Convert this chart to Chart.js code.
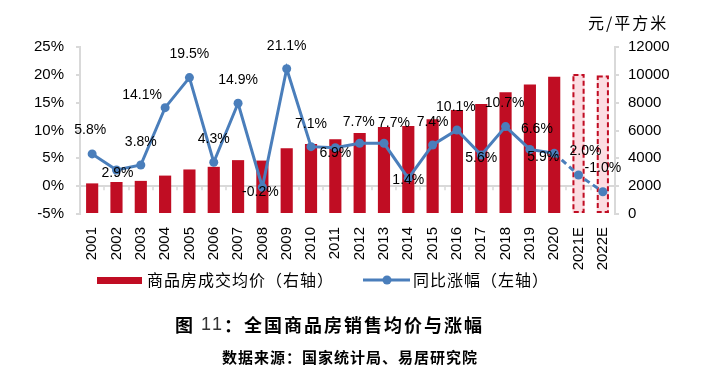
<!DOCTYPE html>
<html>
<head>
<meta charset="utf-8">
<script src="https://cdn.jsdelivr.net/npm/chart.js@4/dist/chart.umd.min.js"></script>
<style>
  html, body { margin: 0; padding: 0; background: #fff; }
  #wrap { width: 709px; height: 391px; }
</style>
</head>
<body>
<div id="wrap"><canvas id="chart" width="709" height="391"></canvas></div>
<script>
// data
const years = ['2001', '2002', '2003', '2004', '2005', '2006', '2007', '2008', '2009', '2010',
    '2011', '2012', '2013', '2014', '2015', '2016', '2017', '2018', '2019', '2020', '2021E', '2022E'];
const avgPrice = [2200, 2300, 2380, 2760, 3200, 3390, 3870, 3840, 4720, 5030,
    5380, 5820, 6260, 6320, 6810, 7480, 7900, 8750, 9300, 9860, 10060, 9960];
const yoyGrowth = [5.8, 2.9, 3.8, 14.1, 19.5, 4.3, 14.9, -0.2, 21.1, 7.1,
    6.9, 7.7, 7.7, 1.4, 7.4, 10.1, 5.6, 10.7, 6.6, 5.9, 2.0, -1.0];
const ESTIMATE_FROM = 20; // first forecast year (2021E)

const RED = '#C00D23';
const PINK = '#FCDDE2';
const BLUE = '#4A7EBB';
const GRAY = '#D9D9D9';
const CN = '"Noto Sans CJK SC", "Noto Sans", sans-serif';
const NUM = '"Liberation Sans", Arial, sans-serif';

// where each value label sits relative to its point
const LABEL_OFFSETS = [
    [-2, -24], [1, 3], [0, -23], [-23, -13], [0, -23], [0, -23], [0, -23], [-2, 5], [0, -23], [0, -23],
    [0, 5], [-1, -21], [10, -20], [0, 2], [0, -23], [-1, -23], [0, 3], [-1, -23], [7, -20], [-11, 4],
    [7, -24], [0, -24]
];

// draws text char by char with extra spacing, returns the x where it ends
function spaced(ctx, text, x, y, spacing) {
    let cx = x;
    for (const ch of text) {
        ctx.fillText(ch, cx, y);
        cx += ctx.measureText(ch).width + spacing;
    }
    return cx;
}

const decor = {
    id: 'decor',
    afterDatasetDraw(chart, args) {
        const ds = chart.data.datasets[args.index];
        if (ds.type !== 'bar') return;
        // dashed outline for the forecast bars
        const ctx = chart.ctx;
        args.meta.data.forEach((bar, i) => {
            if (i < ESTIMATE_FROM) return;
            const { x, y, base, width } = bar.getProps(['x', 'y', 'base', 'width'], true);
            ctx.save();
            ctx.strokeStyle = RED;
            ctx.lineWidth = 2;
            ctx.setLineDash([5, 3]);
            ctx.strokeRect(x - width / 2 + 1, y + 1, width - 2, base - y - 2);
            ctx.restore();
        });
    },
    afterDatasetsDraw(chart) {
        const ctx = chart.ctx;
        const xs = chart.scales.x;
        const y0 = chart.scales.y.getPixelForValue(0);

        // small category ticks hanging off the zero line
        ctx.save();
        ctx.strokeStyle = GRAY;
        ctx.lineWidth = 1.5;
        for (let i = 0; i <= years.length; i++) {
            const px = Math.round(xs.getPixelForValue(i - 0.5));
            ctx.beginPath();
            ctx.moveTo(px, y0);
            ctx.lineTo(px, y0 + 4);
            ctx.stroke();
        }
        ctx.restore();

        // value labels on the line
        const meta = chart.getDatasetMeta(0);
        ctx.save();
        ctx.fillStyle = '#000';
        ctx.font = '14px ' + NUM;
        ctx.textAlign = 'center';
        ctx.textBaseline = 'middle';
        meta.data.forEach((pt, i) => {
            const off = LABEL_OFFSETS[i] || [0, -23];
            ctx.fillText(yoyGrowth[i].toFixed(1) + '%', pt.x + off[0], pt.y + off[1]);
        });
        ctx.restore();
    },
    afterDraw(chart) {
        const ctx = chart.ctx;
        ctx.save();
        ctx.fillStyle = '#000';
        ctx.textBaseline = 'middle';
        ctx.textAlign = 'left';

        // unit on top of right axis
        ctx.font = '16px ' + CN;
        spaced(ctx, '元/平方米', 588, 23, 2);

        // legend
        const ly = 280;
        ctx.fillStyle = RED;
        ctx.fillRect(97, ly - 3, 45, 7);
        ctx.fillStyle = '#000';
        ctx.font = '16px ' + CN;
        spaced(ctx, '商品房成交均价（右轴）', 147, ly, 1);
        ctx.strokeStyle = BLUE;
        ctx.lineWidth = 3;
        ctx.beginPath();
        ctx.moveTo(363, ly);
        ctx.lineTo(410, ly);
        ctx.stroke();
        ctx.fillStyle = BLUE;
        ctx.beginPath();
        ctx.arc(387, ly, 4.5, 0, Math.PI * 2);
        ctx.fill();
        ctx.fillStyle = '#000';
        spaced(ctx, '同比涨幅（左轴）', 413, ly, 1);

        // caption
        let tx = 175;
        ctx.font = 'bold 18px ' + CN;
        tx = spaced(ctx, '图 ', tx, 325, 2);
        ctx.font = '18px ' + NUM;
        ctx.fillStyle = '#333';
        tx = spaced(ctx, '11', tx, 325, 1);
        ctx.fillStyle = '#000';
        ctx.font = 'bold 18px ' + CN;
        spaced(ctx, '：全国商品房销售均价与涨幅', tx + 1, 325, 2);
        ctx.font = 'bold 15px ' + CN;
        spaced(ctx, '数据来源：国家统计局、易居研究院', 222, 357, 1);
        ctx.restore();
    }
};

const ctx = document.getElementById('chart').getContext('2d');
new Chart(ctx, {
    data: {
        labels: years,
        datasets: [
            {
                type: 'line',
                label: '同比涨幅（左轴）',
                data: yoyGrowth,
                yAxisID: 'y',
                order: 1,
                borderColor: BLUE,
                backgroundColor: BLUE,
                borderWidth: 3,
                pointRadius: 4.5,
                pointBorderWidth: 0,
                pointBackgroundColor: BLUE,
                tension: 0,
                segment: {
                    borderDash: c => (c.p1DataIndex >= ESTIMATE_FROM ? [6, 4] : undefined)
                }
            },
            {
                type: 'bar',
                label: '商品房成交均价（右轴）',
                data: avgPrice,
                yAxisID: 'y1',
                order: 2,
                backgroundColor: c => (c.dataIndex >= ESTIMATE_FROM ? PINK : RED),
                borderWidth: 0,
                barPercentage: 0.5,
                categoryPercentage: 1
            }
        ]
    },
    options: {
        responsive: false,
        animation: false,
        layout: { padding: { top: 47, left: 0, right: 0, bottom: 0 } },
        plugins: {
            legend: { display: false },
            tooltip: { enabled: false }
        },
        scales: {
            x: {
                grid: { display: false, drawTicks: false },
                border: { display: false },
                ticks: {
                    autoSkip: false,
                    minRotation: 90,
                    maxRotation: 90,
                    padding: 13,
                    color: '#000',
                    font: { family: NUM, size: 15 }
                },
                afterFit: s => { s.height = 177; }
            },
            y: {
                position: 'left',
                min: -5,
                max: 25,
                ticks: {
                    stepSize: 5,
                    padding: 12,
                    color: '#000',
                    font: { family: NUM, size: 15 },
                    callback: v => v + '%'
                },
                grid: {
                    color: c => (c.tick && c.tick.value === 0 ? GRAY : 'transparent'),
                    tickColor: GRAY,
                    tickLength: 4,
                    lineWidth: 2
                },
                border: { color: GRAY, width: 2 },
                afterFit: s => { s.width = 80; }
            },
            y1: {
                position: 'right',
                min: 0,
                max: 12000,
                ticks: {
                    stepSize: 2000,
                    padding: 9,
                    color: '#000',
                    font: { family: NUM, size: 15 },
                    callback: v => String(v)
                },
                grid: {
                    drawOnChartArea: false,
                    color: GRAY,
                    tickLength: 4,
                    lineWidth: 2
                },
                border: { color: GRAY, width: 2 },
                afterFit: s => { s.width = 94; }
            }
        }
    },
    plugins: [decor]
});
</script>
</body>
</html>
